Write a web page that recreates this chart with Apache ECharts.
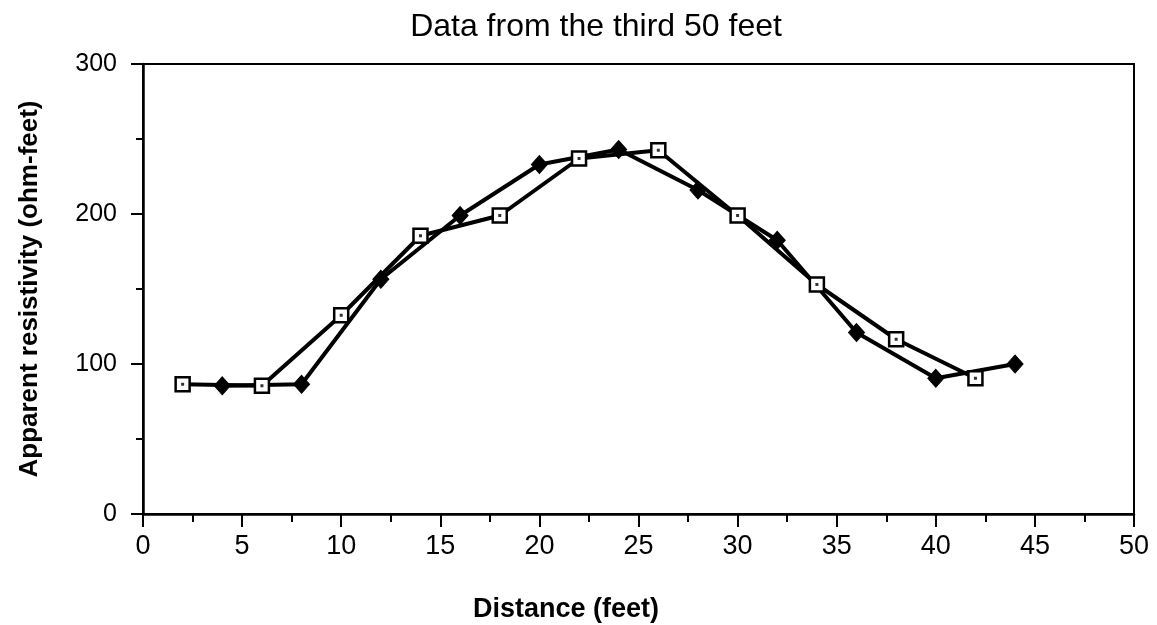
<!DOCTYPE html>
<html><head><meta charset="utf-8">
<script src="https://cdn.jsdelivr.net/npm/echarts@6/dist/echarts.min.js"></script>
<style>html,body{margin:0;padding:0;background:#fff}#c{width:1157px;height:625px}</style>
</head><body><div id="c"></div>
<script>
const titleText = 'Data from the third 50 feet';
const xName = 'Distance (feet)';
const yName = 'Apparent resistivity (ohm-feet)';
const squareX = [2, 6, 10, 14, 18, 22, 26, 30, 34, 38, 42];
const squareY = [86.5, 85.5, 132.5, 185.5, 199, 237, 242.5, 199, 153, 116.5, 90.5];
const diamondX = [4, 8, 12, 16, 20, 24, 28, 32, 36, 40, 44];
const diamondY = [85.5, 86.5, 156.5, 199, 233, 243, 216, 182.5, 121, 90.5, 100];

const sq = squareX.map((x, i) => [x, squareY[i]]);
const di = diamondX.map((x, i) => [x, diamondY[i]]);
const font = '"Liberation Sans", Arial, Helvetica, sans-serif';

const chart = echarts.init(document.getElementById('c'));
chart.setOption({
  animation: false,
  backgroundColor: '#fff',
  title: [
    { text: titleText, left: 591, top: 6, textAlign: 'center',
      textStyle: { fontFamily: font, fontSize: 32, fontWeight: 'normal', color: '#000' } },
    { text: xName, left: 561, top: 591, textAlign: 'center',
      textStyle: { fontFamily: font, fontSize: 27, fontWeight: 'bold', color: '#000' } }
  ],
  grid: { left: 143, right: 23, top: 64, bottom: 111, show: true, borderColor: '#000', borderWidth: 2 },
  xAxis: {
    type: 'value', min: 0, max: 50, interval: 5,
    axisLine: { lineStyle: { color: '#000', width: 2.5 } },
    axisTick: { show: true, inside: false, length: 13, lineStyle: { color: '#000', width: 2 } },
    minorTick: { show: true, splitNumber: 2, length: 8, lineStyle: { color: '#000', width: 2 } },
    splitLine: { show: false },
    axisLabel: { margin: 19, fontFamily: font, fontSize: 27, color: '#000' }
  },
  yAxis: {
    type: 'value', min: 0, max: 300, interval: 100,
    name: yName, nameLocation: 'middle', nameGap: 100,
    nameTextStyle: { fontFamily: font, fontSize: 26, fontWeight: 'bold', color: '#000' },
    axisLine: { show: true, lineStyle: { color: '#000', width: 2.5 } },
    axisTick: { show: true, inside: false, length: 12, lineStyle: { color: '#000', width: 2 } },
    minorTick: { show: true, splitNumber: 2, length: 7, lineStyle: { color: '#000', width: 2 } },
    splitLine: { show: false },
    axisLabel: { margin: 26, fontFamily: font, fontSize: 25, color: '#000' }
  },
  series: [
    { type: 'line', data: di, symbol: 'diamond', symbolSize: [16, 18],
      lineStyle: { color: '#000', width: 4 },
      itemStyle: { color: '#000', borderColor: '#000', borderWidth: 1 }, z: 3 },
    { type: 'line', data: sq, symbol: 'rect', symbolSize: 14,
      lineStyle: { color: '#000', width: 4 },
      itemStyle: { color: '#fff', borderColor: '#000', borderWidth: 2.5 }, z: 4 },
    { type: 'scatter', data: sq, symbol: 'rect', symbolSize: 3,
      itemStyle: { color: '#000' }, z: 5 }
  ]
});
</script></body></html>
